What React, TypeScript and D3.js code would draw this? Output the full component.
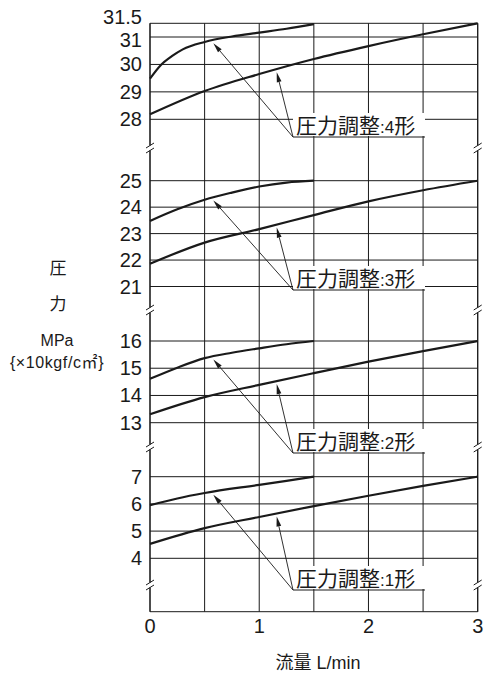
import * as d3 from 'd3'
import React from 'react'

type Pt = [number, number]

// flow L/min -> pressure MPa
const xTicks = [0, 1, 2, 3]
const xGrid = [0, 0.5, 1, 1.5, 2, 2.5, 3]

const type4Ticks = [31.5, 31, 30, 29, 28]
const type4Upper: Pt[] = [[0, 29.48], [0.1, 29.98], [0.2, 30.3], [0.3, 30.55], [0.5, 30.82], [0.75, 31.02], [1, 31.16], [1.25, 31.3], [1.5, 31.47]]
const type4Lower: Pt[] = [[0, 28.18], [0.5, 29.03], [1, 29.65], [1.5, 30.2], [2, 30.67], [2.5, 31.1], [3, 31.5]]

const type3Ticks = [25, 24, 23, 22, 21]
const type3Upper: Pt[] = [[0, 23.48], [0.25, 23.92], [0.5, 24.28], [0.75, 24.55], [1, 24.78], [1.25, 24.93], [1.5, 25.0]]
const type3Lower: Pt[] = [[0, 21.86], [0.5, 22.66], [1, 23.17], [1.5, 23.7], [2, 24.22], [2.5, 24.64], [3, 25.0]]

const type2Ticks = [16, 15, 14, 13]
const type2Upper: Pt[] = [[0, 14.61], [0.25, 15.02], [0.5, 15.37], [0.75, 15.57], [1, 15.73], [1.25, 15.88], [1.5, 16.0]]
const type2Lower: Pt[] = [[0, 13.31], [0.5, 13.94], [1, 14.39], [1.5, 14.82], [2, 15.24], [2.5, 15.63], [3, 16.0]]

const type1Ticks = [7, 6, 5, 4]
const type1Upper: Pt[] = [[0, 5.95], [0.25, 6.2], [0.5, 6.4], [1, 6.7], [1.5, 7.0]]
const type1Lower: Pt[] = [[0, 4.53], [0.5, 5.11], [1, 5.52], [1.5, 5.92], [2, 6.3], [2.5, 6.66], [3, 7.0]]

const panelNames = ['4', '3', '2', '1']
const arrowAt = [0.58, 1.16]

// layout
const W = 485
const H = 673
const left = 150
const right = 477.7
const top = 23.3
const bottom = 611.7
const breaks = [148, 310, 447, 585]
const ink = '#1a1a1a'
const font = '"Liberation Sans", Arial, "Noto Sans CJK JP", sans-serif'
const cjk = '"Noto Sans CJK JP", sans-serif'

const panels = [
  { ticks: type4Ticks, upper: type4Upper, lower: type4Lower, range: [119.3, 23.3], labelY: 137 },
  { ticks: type3Ticks, upper: type3Upper, lower: type3Lower, range: [286.5, 180.7], labelY: 290 },
  { ticks: type2Ticks, upper: type2Upper, lower: type2Lower, range: [422.7, 341], labelY: 453 },
  { ticks: type1Ticks, upper: type1Upper, lower: type1Lower, range: [558.3, 476.7], labelY: 590 },
]

const x = d3.scaleLinear().domain([0, 3]).range([left, right])

const valueAt = (pts: Pt[], fx: number) => {
  const i = d3.bisector((p: Pt) => p[0]).right(pts, fx)
  const a = pts[Math.max(0, i - 1)]
  const b = pts[Math.min(pts.length - 1, i)]
  if (a[0] === b[0]) return a[1]
  return a[1] + ((b[1] - a[1]) * (fx - a[0])) / (b[0] - a[0])
}

// nudge the crowded top labels apart (31.5 sits just above 31)
const labelShift = (t: number, ticks: number[]) => {
  if (ticks[0] % 1 === 0) return 0
  if (t === ticks[0]) return -6
  if (t === ticks[1]) return 3
  return 0
}

const Arrow = ({ x0, y0, x1, y1 }: { x0: number; y0: number; x1: number; y1: number }) => {
  const ang = Math.atan2(y1 - y0, x1 - x0)
  const len = 10
  const hw = 2.4
  const bx = x1 - len * Math.cos(ang)
  const by = y1 - len * Math.sin(ang)
  const nx = -Math.sin(ang) * hw
  const ny = Math.cos(ang) * hw
  return (
    <g>
      <line x1={x0} y1={y0} x2={bx} y2={by} stroke={ink} strokeWidth={0.9} />
      <polygon points={`${x1},${y1} ${bx + nx},${by + ny} ${bx - nx},${by - ny}`} fill={ink} />
    </g>
  )
}

const BreakMark = ({ cx, cy }: { cx: number; cy: number }) => (
  <g>
    <line x1={cx} x2={cx} y1={cy - 2.5} y2={cy + 2.5} stroke="#fff" strokeWidth={3} />
    {[-2.5, 2.5].map((d) => (
      <line key={d} x1={cx - 4} y1={cy + d + 2.5} x2={cx + 4} y2={cy + d - 2.5} stroke={ink} strokeWidth={1} />
    ))}
  </g>
)

export default function App() {
  const line = d3.line<Pt>().curve(d3.curveMonotoneX)

  return (
    <svg width={W} height={H} style={{ position: 'absolute', left: 0, top: 0, background: '#fff' }}>
      {/* vertical grid */}
      {xGrid.map((v) => (
        <line key={v} x1={x(v)} x2={x(v)} y1={top} y2={bottom} stroke={ink} strokeWidth={1} />
      ))}
      <line x1={left} x2={right} y1={bottom} y2={bottom} stroke={ink} strokeWidth={1} />

      {panels.map((p, pi) => {
        const y = d3.scaleLinear().domain([p.ticks[p.ticks.length - 1], p.ticks[0]]).range(p.range)
        const toPx = (pts: Pt[]) => line.x((d) => x(d[0])).y((d) => y(d[1]))(pts) ?? ''
        const ox = 293
        const oy = p.labelY
        const tips = [
          { fx: arrowAt[0], pts: p.upper },
          { fx: arrowAt[1], pts: p.lower },
        ]
        return (
          <g key={pi}>
            {p.ticks.map((t) => (
              <g key={t}>
                <line x1={left} x2={right} y1={y(t)} y2={y(t)} stroke={ink} strokeWidth={1} />
                <text
                  x={142}
                  y={y(t) + labelShift(t, p.ticks)}
                  textAnchor="end"
                  dominantBaseline="central"
                  fontFamily={font}
                  fontSize={20}
                  fill={ink}
                >
                  {t}
                </text>
              </g>
            ))}
            <path d={toPx(p.upper)} fill="none" stroke={ink} strokeWidth={2.2} />
            <path d={toPx(p.lower)} fill="none" stroke={ink} strokeWidth={2.2} />

            <rect x={ox} y={oy - 24} width={132} height={23} fill="#fff" />
            <line x1={ox} x2={ox + 132} y1={oy} y2={oy} stroke={ink} strokeWidth={1} />
            <text x={ox + 3} y={oy - 4} fontFamily={cjk} fontSize={21} fill={ink}>
              圧力調整
              <tspan fontFamily={font} fontSize={17}>:{panelNames[pi]}</tspan>
              形
            </text>
            {tips.map((t, i) => (
              <Arrow key={i} x0={ox} y0={oy} x1={x(t.fx)} y1={y(valueAt(t.pts, t.fx)) + 3} />
            ))}
          </g>
        )
      })}

      {/* side axes */}
      <line x1={left} x2={left} y1={top} y2={bottom} stroke={ink} strokeWidth={1.1} />
      <line x1={right} x2={right} y1={top} y2={bottom} stroke={ink} strokeWidth={1.1} />
      {breaks.map((b) => (
        <g key={b}>
          <BreakMark cx={left} cy={b} />
          <BreakMark cx={right} cy={b} />
        </g>
      ))}

      {xTicks.map((t) => (
        <text key={t} x={x(t)} y={626} textAnchor="middle" dominantBaseline="central" fontFamily={font} fontSize={20} fill={ink}>
          {t}
        </text>
      ))}
      <text x={318} y={663} textAnchor="middle" dominantBaseline="central" fontFamily={font} fontSize={18} fill={ink}>
        流量 L/min
      </text>

      {/* y title */}
      <text x={58} y={266} textAnchor="middle" dominantBaseline="central" fontFamily={cjk} fontSize={17} fill={ink}>圧</text>
      <text x={58} y={302} textAnchor="middle" dominantBaseline="central" fontFamily={cjk} fontSize={17} fill={ink}>力</text>
      <text x={57} y={340} textAnchor="middle" dominantBaseline="central" fontFamily={font} fontSize={16} fill={ink}>MPa</text>
      <text x={57} y={362} textAnchor="middle" dominantBaseline="central" fontFamily={font} fontSize={16} letterSpacing={0.6} fill={ink}>
        {'{×10kgf/c㎡}'}
      </text>
    </svg>
  )
}
